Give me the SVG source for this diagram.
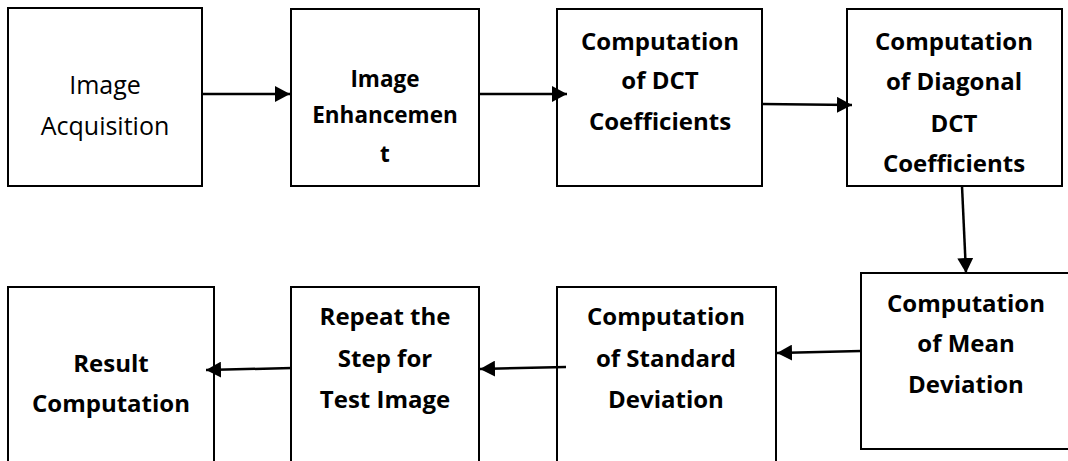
<svg xmlns="http://www.w3.org/2000/svg" width="1068" height="461" viewBox="0 0 1068 461">
<style>
.box{fill:#fff;stroke:#000;stroke-width:2}
.t{font-family:"Open Sans","Liberation Sans",sans-serif;font-size:24px;font-weight:bold;fill:#000;text-anchor:middle}
.r{font-weight:normal;font-size:25px}
.s{font-size:22.5px}
.c{stroke:#000;stroke-width:2.5;fill:none;marker-end:url(#ah)}
</style>
<defs>
<marker id="ah" markerUnits="userSpaceOnUse" markerWidth="16" markerHeight="16" refX="15" refY="8" orient="auto">
<path d="M0,0 L15,8 L0,16 z" fill="#000"/>
</marker>
</defs>
<rect width="1068" height="461" fill="#fff"/>
<g id="n1"><rect class="box" x="8" y="8" width="194" height="178"/>
<text class="t r" x="105" y="94">Image</text><text class="t r" x="105" y="135">Acquisition</text></g>
<g id="n2"><rect class="box" x="291" y="9" width="188" height="177"/>
<text class="t s" x="385" y="87">Image</text><text class="t s" x="385" y="123">Enhancemen</text><text class="t s" x="385" y="162">t</text></g>
<g id="n3"><rect class="box" x="557" y="9" width="205" height="177"/>
<text class="t" x="660" y="50">Computation</text><text class="t" x="660" y="89">of DCT</text><text class="t" x="660" y="130">Coefficients</text></g>
<g id="n4"><rect class="box" x="847" y="9" width="215" height="177"/>
<text class="t" x="954" y="50">Computation</text><text class="t" x="954" y="90">of Diagonal</text><text class="t" x="954" y="132">DCT</text><text class="t" x="954" y="172">Coefficients</text></g>
<g id="n5"><rect class="box" x="861" y="273" width="220" height="176"/>
<text class="t" x="966" y="312">Computation</text><text class="t" x="966" y="352">of Mean</text><text class="t" x="966" y="393">Deviation</text></g>
<g id="n6"><rect class="box" x="557" y="287" width="219" height="190"/>
<text class="t" x="666" y="325">Computation</text><text class="t" x="666" y="367">of Standard</text><text class="t" x="666" y="408">Deviation</text></g>
<g id="n7"><rect class="box" x="291" y="287" width="188" height="190"/>
<text class="t" x="385" y="325">Repeat the</text><text class="t" x="385" y="367">Step for</text><text class="t" x="385" y="408">Test Image</text></g>
<g id="n8"><rect class="box" x="8" y="287" width="206" height="190"/>
<text class="t" x="111" y="372">Result</text><text class="t" x="111" y="412">Computation</text></g>
<g id="connectors">
<line class="c" x1="202" y1="94" x2="290" y2="94"/>
<line class="c" x1="479" y1="94" x2="567" y2="94"/>
<line class="c" x1="762" y1="104" x2="852" y2="105"/>
<line class="c" x1="962" y1="186" x2="966" y2="273"/>
<line class="c" x1="861" y1="351" x2="777" y2="353"/>
<line class="c" x1="566" y1="367" x2="480" y2="369"/>
<line class="c" x1="292" y1="368" x2="206" y2="370"/>
</g>
</svg>
